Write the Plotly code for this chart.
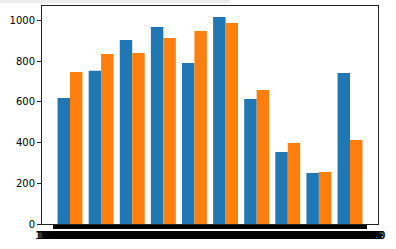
import numpy as np
import plotly.graph_objects as go

groups = list(range(10))
series_a = [620, 753, 905, 969, 792, 1018, 615, 354, 251, 743]
series_b = [748, 836, 841, 915, 949, 989, 659, 398, 256, 413]
y_ticks = [0, 200, 400, 600, 800, 1000]

# dense x tick marks / labels (overlapping, as in the reference)
n_ticks = 320
x_tickvals = list(np.linspace(-0.515, 9.53, n_ticks))
x_ticktext = [str(100000 + k) for k in range(n_ticks)]

fig = go.Figure()
fig.add_trace(go.Bar(x=groups, y=series_a, marker=dict(color="#1f77b4", line=dict(width=0)), name="a"))
fig.add_trace(go.Bar(x=groups, y=series_b, marker=dict(color="#ff7f0e", line=dict(width=0)), name="b"))

fig.update_layout(
    width=396, height=249,
    margin=dict(l=42, r=18, t=6, b=25),
    barmode="group", bargap=0.2, bargroupgap=0,
    showlegend=False,
    plot_bgcolor="white", paper_bgcolor="white",
    font=dict(family="DejaVu Sans", size=10, color="black"),
    xaxis=dict(range=[-0.9, 9.9], tickmode="array", tickvals=x_tickvals, ticktext=x_ticktext,
               tickangle=0, ticks="outside", ticklen=4, tickwidth=1, tickcolor="black",
               ticklabelstandoff=-2,
               showline=True, linecolor="#222", linewidth=1, mirror=True,
               showgrid=False, zeroline=False, tickfont=dict(size=10, color="black")),
    yaxis=dict(range=[0, 1072], tickmode="array", tickvals=y_ticks,
               ticks="outside", ticklen=4, tickwidth=1, tickcolor="#222",
               showline=True, linecolor="#222", linewidth=1, mirror=True,
               showgrid=False, zeroline=False, tickfont=dict(size=10, color="black")),
    shapes=[dict(type="rect", xref="paper", yref="paper", x0=-42/336, x1=188/336,
                 y0=1+3/218, y1=1+6/218, fillcolor="#ececec", line=dict(width=0), layer="below")],
)

fig.write_html("out.html")
